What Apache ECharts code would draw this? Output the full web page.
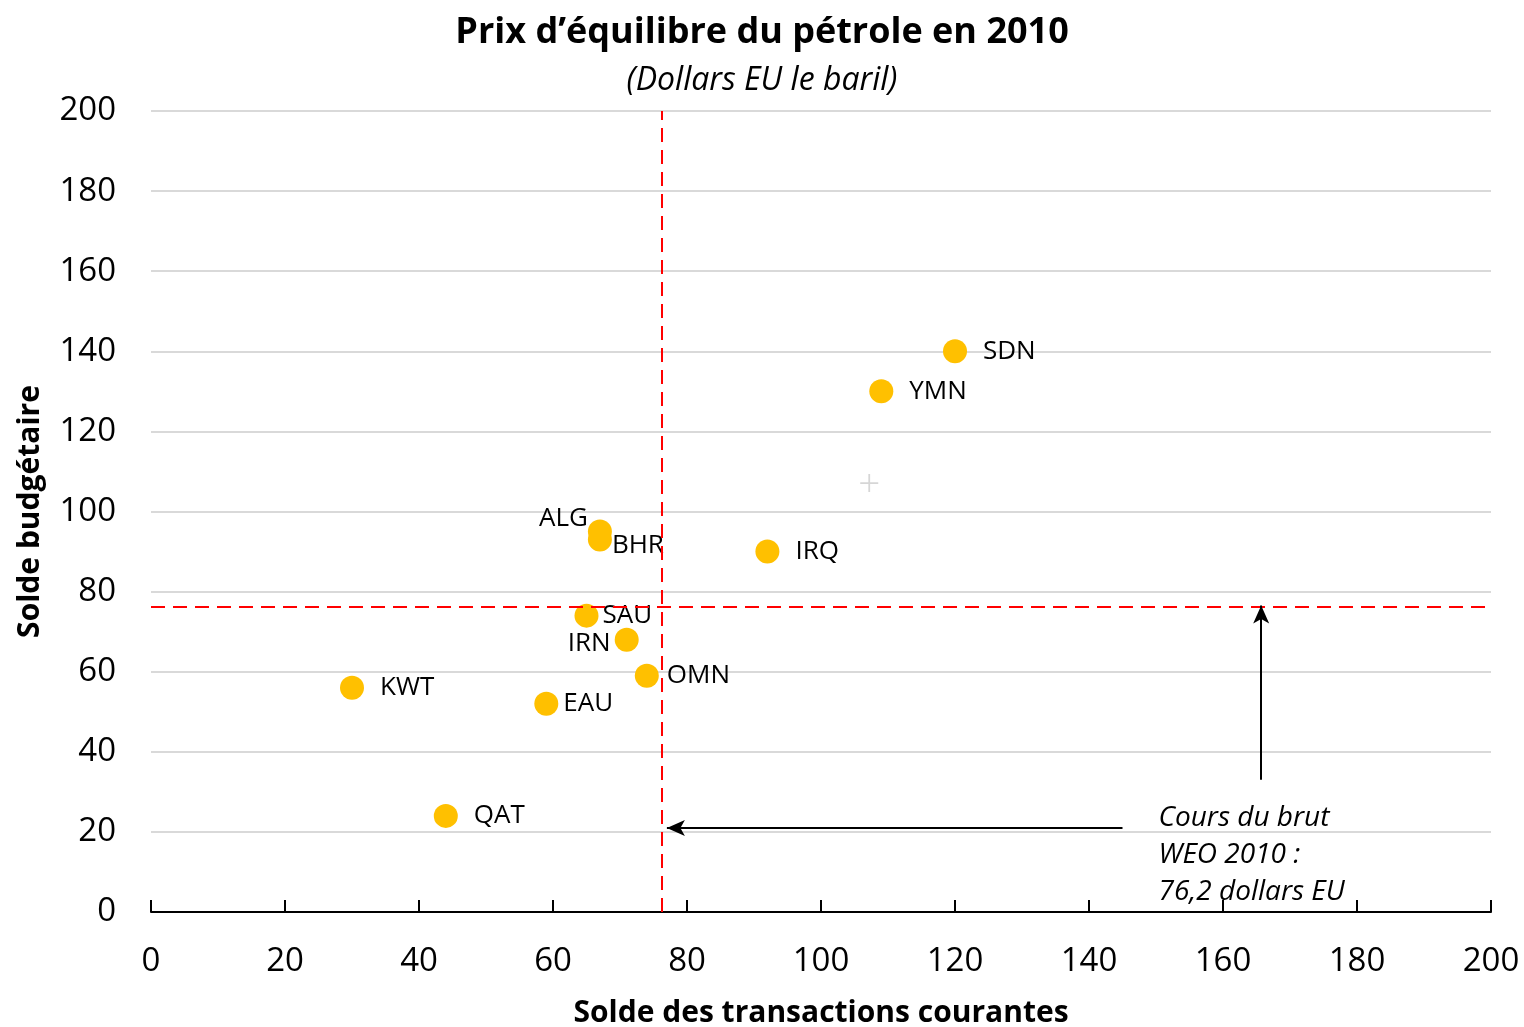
<!DOCTYPE html>
<html>
<head>
<meta charset="utf-8">
<title>Prix d'équilibre du pétrole</title>
<script src="https://cdn.jsdelivr.net/npm/echarts@6/dist/echarts.min.js"></script>
<style>
html, body { margin:0; padding:0; background:#fff; }
#container { width:1524px; height:1027px; }
</style>
</head>
<body>
<div id="container"></div>
<script>
    // pays, solde courant (x), solde budgétaire (y)
    var countries = ['SDN','YMN','ALG','BHR','IRQ','SAU','IRN','OMN','KWT','EAU','QAT'];
    var currentAccount = [120, 109, 67, 67, 92, 65, 71, 74, 30, 59, 44];
    var budgetBalance = [140, 130, 95, 93, 90, 74, 68, 59, 56, 52, 24];
    var weoPrice = 76.2;
    var axisTicks = [0, 20, 40, 60, 80, 100, 120, 140, 160, 180, 200];

    var FONT = '"Open Sans", sans-serif';

    // placement des étiquettes (style seulement)
    var labelPlace = {
        SDN: {position:'right', distance:16},
        YMN: {position:'right', distance:16},
        ALG: {position:'left', distance:0, offset:[0,-13]},
        BHR: {position:'right', distance:0, offset:[0,6]},
        IRQ: {position:'right', distance:16},
        SAU: {position:'right', distance:4},
        IRN: {position:'left', distance:4, offset:[0,4]},
        OMN: {position:'right', distance:8},
        KWT: {position:'right', distance:16},
        EAU: {position:'right', distance:5},
        QAT: {position:'right', distance:16}
    };

    var points = countries.map(function (c, i) {
        var p = labelPlace[c];
        return {
            name: c,
            value: [currentAccount[i], budgetBalance[i]],
            label: {position: p.position, distance: p.distance, offset: p.offset || [0, 0]}
        };
    });

    var option = {
        backgroundColor: '#fff',
        animation: false,
        textStyle: {fontFamily: FONT},
        title: [
            {
                text: 'Prix d’équilibre du pétrole en 2010',
                left: 'center', top: 10,
                textStyle: {fontFamily: FONT, fontSize: 36, fontWeight: 'bold', color: '#000'}
            },
            {
                text: '(Dollars EU le baril)',
                left: 'center', top: 60,
                textStyle: {fontFamily: FONT, fontSize: 32, fontStyle: 'italic', fontWeight: 'normal', color: '#000'}
            }
        ],
        grid: {left: 151, right: 33, top: 111, bottom: 115, outerBoundsMode: 'none', containLabel: false},
        xAxis: {
            type: 'value',
            min: axisTicks[0], max: axisTicks[axisTicks.length - 1], interval: 20,
            name: 'Solde des transactions courantes',
            nameLocation: 'middle', nameGap: 86,
            nameTextStyle: {fontFamily: FONT, fontSize: 30, fontWeight: 'bold', color: '#000'},
            axisLine: {show: true, lineStyle: {color: '#000', width: 2}},
            axisTick: {show: true, inside: true, length: 12, lineStyle: {color: '#000', width: 2}},
            axisLabel: {fontFamily: FONT, fontSize: 33, color: '#000', margin: 33},
            splitLine: {show: false}
        },
        yAxis: {
            type: 'value',
            min: axisTicks[0], max: axisTicks[axisTicks.length - 1], interval: 20,
            name: 'Solde budgétaire',
            nameLocation: 'middle', nameGap: 106,
            nameTextStyle: {fontFamily: FONT, fontSize: 30, fontWeight: 'bold', color: '#000'},
            axisLine: {show: false},
            axisTick: {show: false},
            axisLabel: {fontFamily: FONT, fontSize: 33, color: '#000', margin: 35},
            splitLine: {show: true, lineStyle: {color: '#d9d9d9', width: 2}}
        },
        series: [
            {
                type: 'scatter',
                symbolSize: 24,
                itemStyle: {color: '#FFC000', opacity: 1},
                label: {
                    show: true,
                    formatter: '{b}',
                    fontFamily: FONT, fontSize: 26, color: '#000'
                },
                data: points,
                markLine: {
                    silent: true,
                    symbol: ['none', 'none'],
                    label: {show: false},
                    lineStyle: {color: '#ff0000', type: [14, 8], width: 2},
                    data: [
                        {xAxis: weoPrice},
                        [{coord: [0, weoPrice]}, {coord: [200, weoPrice]}],
                        [
                            {coord: [145, 21], lineStyle: {color: '#000', type: 'solid', width: 2}, symbol: 'none'},
                            {coord: [77, 21], symbol: 'arrow'}
                        ],
                        [
                            {coord: [165.7, 33], lineStyle: {color: '#000', type: 'solid', width: 2}, symbol: 'none'},
                            {coord: [165.7, weoPrice + 0.3], symbol: 'arrow'}
                        ]
                    ],
                    symbolSize: [12, 18]
                },
                markPoint: {
                    silent: true,
                    data: [
                        {
                            coord: [150.3, 14.2],
                            symbol: 'circle', symbolSize: 1,
                            itemStyle: {color: 'rgba(0,0,0,0)'},
                            label: {
                                show: true,
                                position: 'right', distance: 0,
                                formatter: 'Cours du brut\nWEO 2010 :\n76,2 dollars EU',
                                fontFamily: FONT, fontSize: 28, fontStyle: 'italic',
                                color: '#000', lineHeight: 37, align: 'left'
                            }
                        },
                        {
                            coord: [107.2, 107.1],
                            symbol: 'path://M9,0 L11,0 L11,9 L20,9 L20,11 L11,11 L11,20 L9,20 L9,11 L0,11 L0,9 L9,9 Z',
                            symbolSize: 18,
                            itemStyle: {color: '#d6d6d6'},
                            label: {show: false}
                        }
                    ]
                }
            }
        ]
    };

    var myChart = echarts.init(document.getElementById('container'));
    myChart.setOption(option, true);
</script>
</body>
</html>
